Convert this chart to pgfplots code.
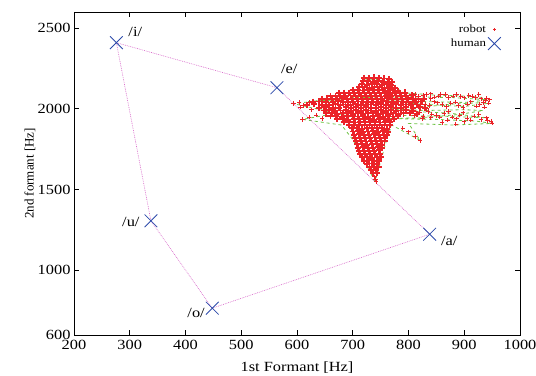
\documentclass[border=0pt]{standalone}
\usepackage{pgfplots}
\pgfplotsset{compat=1.18}
\usepackage{fontspec}
\setmainfont{Liberation Serif}[FakeStretch=1.17]
\newfontfamily\plainserif{Liberation Serif}
\definecolor{robred}{RGB}{235,35,40}
\definecolor{robgreen}{RGB}{110,195,70}
\definecolor{humblue}{RGB}{45,75,170}
\definecolor{polymag}{RGB}{215,100,200}
\pgfplotsset{mylegimg/.style={legend image code/.code={\draw[##1] plot coordinates {(0.5cm,0cm)};}}}
\begin{document}
\begin{tikzpicture}
\begin{axis}[
  scale only axis, width=446pt, height=323pt,
  xmin=200, xmax=1000, ymin=600, ymax=2600,
  xtick={200,300,...,1000}, ytick={600,1000,1500,2000,2500},
  scaled ticks=false,
  /pgf/number format/assume math mode=true,
  /pgf/number format/set thousands separator={},
  tick align=inside, major tick length=5pt,
  axis line style={line width=0.9pt},
  tick style={black, line width=0.8pt},
  ticklabel style={font=\fontsize{14}{16}\selectfont},
  xticklabel style={yshift=-2pt},
  xlabel={1st Formant [Hz]}, ylabel={2nd formant [Hz]},
  xlabel style={font=\fontsize{14}{16}\selectfont, at={(axis description cs:0.5,0)}, anchor=center, yshift=-33pt},
  ylabel style={font=\fontsize{13}{15}\plainserif, at={([xshift=-44pt]axis description cs:0,0.5)}, anchor=center},
  legend style={at={(0.964,0.973)}, anchor=north east, draw=none, fill=none,
     font=\fontsize{11}{13}\selectfont, row sep=1pt},
  legend cell align=right, legend plot pos=right,
]
% green trajectory
\addplot[forget plot, robgreen, dashed, line width=0.8pt] coordinates {
(740,1550)(701,1805)(680,1900)(610,1935)(650,1960)(700,1950)(593,2033)(640,2050)(700,2060)(720,2185)(760,2180)(790,2100)(850,2085)(900,2080)(935,2070)(940,2040)(880,2030)(820,2010)(760,2000)(830,1990)(900,1995)(934,1990)(890,1965)(820,1945)(760,1940)(850,1935)(920,1925)(950,1910)(880,1900)(800,1910)(821,1805)(770,1900)(762,1824)(740,1550)
};
\addplot[forget plot, robgreen, dashed, line width=0.8pt] coordinates {
(620,2045)(700,2070)(800,2075)(880,2070)(946,2056)(900,2040)(830,2045)(760,2050)
(820,2030)(900,2015)(944,2035)
};
\addplot[forget plot, robgreen, dashed, line width=0.8pt] coordinates {
(780,1960)(860,1955)(940,1945)(870,1975)(800,1985)
};
% robot points (dense body)
\addplot[forget plot, only marks, mark=+, mark size=3.1pt, robred, line width=1.9pt] coordinates {
(720,2192)(729,2190)(738,2194)(747,2190)(756,2188)(765,2186)
(719,2170)(728,2172)(737,2168)(746,2171)(755,2168)(763,2165)(771,2168)
(716,2152)(725,2150)(734,2154)(743,2152)(752,2149)(761,2153)(769,2150)
(712,2134)(721,2136)(730,2132)(739,2134)(748,2136)(757,2131)(766,2134)(775,2130)
(700,2116)(709,2118)(718,2114)(727,2116)(736,2118)(745,2115)(754,2117)(763,2113)(772,2116)(781,2112)
(676,2098)(685,2100)(694,2096)(703,2098)(712,2100)(721,2097)(730,2099)(739,2096)(748,2100)(757,2098)(766,2095)(775,2099)(784,2097)(793,2101)
(660,2080)(669,2082)(678,2078)(687,2080)(696,2083)(705,2079)(714,2081)(723,2078)(732,2082)(741,2080)(750,2077)(759,2081)(768,2079)(777,2083)(786,2078)(795,2080)(806,2084)
(645,2062)(654,2064)(663,2060)(672,2062)(681,2065)(690,2061)(699,2063)(708,2060)(717,2064)(726,2062)(735,2059)(744,2063)(753,2061)(762,2065)(771,2060)(780,2062)(789,2064)(798,2060)(808,2063)(818,2060)(828,2064)
(628,2044)(640,2046)(652,2042)(664,2044)(673,2047)(682,2043)(691,2045)(700,2042)(709,2046)(718,2044)(727,2041)(736,2045)(745,2043)(754,2047)(763,2042)(772,2044)(781,2046)(790,2042)(800,2045)(812,2043)(824,2046)
(618,2026)(630,2028)(645,2024)(657,2026)(669,2029)(678,2025)(687,2027)(696,2024)(705,2028)(714,2026)(723,2023)(732,2027)(741,2025)(750,2029)(759,2024)(768,2026)(777,2028)(786,2024)(795,2027)(805,2025)(816,2027)
(640,2008)(652,2010)(664,2006)(676,2008)(688,2011)(697,2007)(706,2009)(715,2006)(724,2010)(733,2008)(742,2005)(751,2009)(760,2007)(769,2011)(778,2006)(787,2008)(796,2010)(808,2006)(820,2009)(830,2005)
(648,1990)(658,1992)(668,1988)(678,1990)(688,1993)(697,1989)(706,1991)(715,1988)(724,1992)(733,1990)(742,1987)(751,1991)(760,1989)(769,1993)(778,1988)(787,1990)(796,1992)(808,1989)
(652,1972)(662,1974)(672,1970)(682,1972)(692,1975)(701,1971)(710,1973)(719,1970)(728,1974)(737,1972)(746,1969)(755,1973)(764,1971)(773,1975)(782,1970)(791,1972)(802,1974)(815,1970)
(660,1954)(670,1956)(680,1952)(690,1954)(700,1957)(709,1953)(718,1955)(727,1952)(736,1956)(745,1954)(754,1951)(763,1955)(772,1953)(781,1957)
(672,1936)(682,1938)(692,1934)(702,1936)(711,1939)(720,1935)(729,1937)(738,1934)(747,1938)(756,1936)(765,1933)(774,1937)
(684,1918)(694,1920)(704,1916)(713,1918)(722,1921)(731,1917)(740,1919)(749,1916)(758,1920)(767,1918)
(694,1900)(703,1902)(712,1898)(721,1900)(730,1903)(739,1899)(748,1901)(757,1898)(766,1902)
(698,1880)(707,1882)(716,1878)(725,1880)(734,1883)(743,1879)(752,1881)(761,1878)
(700,1860)(709,1862)(718,1858)(727,1860)(736,1863)(745,1859)(754,1861)(763,1858)
(702,1840)(711,1842)(720,1838)(729,1840)(738,1843)(747,1839)(756,1841)(762,1838)
(704,1820)(713,1822)(722,1818)(731,1820)(740,1823)(749,1819)(758,1821)
(706,1800)(715,1802)(724,1798)(733,1800)(742,1803)(751,1799)(757,1801)
(708,1780)(717,1782)(726,1778)(735,1780)(744,1783)(753,1779)
(709,1760)(718,1762)(727,1758)(736,1760)(745,1763)(752,1759)
(711,1740)(720,1742)(729,1738)(738,1740)(747,1743)
(713,1720)(722,1722)(731,1718)(740,1720)(749,1723)
(716,1700)(725,1702)(734,1698)(743,1700)(750,1703)
(720,1680)(729,1682)(738,1678)(747,1680)
(726,1660)(735,1662)(744,1658)
(730,1640)(738,1642)(746,1638)
(733,1620)(741,1622)
(736,1600)(744,1602)
};
% robot points (sparse arms)
\addplot[only marks, mark=+, mark size=2.2pt, robred, line width=0.9pt,
  mylegimg, legend image post style={mark size=1.6pt}] coordinates {
(739,1580)(741,1562)(742,1548)
(594,2034)(604,2040)(612,2022)(606,2012)(622,2040)(610,1934)(622,1948)(634,1962)(645,1940)(626,1995)
(812,2090)(826,2082)(840,2094)(854,2078)(866,2088)(880,2080)(894,2076)(908,2084)(920,2070)(930,2062)(938,2050)
(815,2040)(830,2030)(846,2044)(860,2026)(876,2036)(890,2022)(906,2030)(922,2018)(934,2040)(936,2010)
(806,1990)(820,1975)(835,1985)(850,1960)(864,1972)(878,1950)(892,1962)(905,1940)(918,1955)(930,1935)(942,1928)(950,1912)(900,1920)(870,1930)(840,1945)
(790,1880)(800,1858)(812,1830)(821,1805)
(812,2060)(824,2050)(818,2010)(832,2000)(826,1955)(840,2064)
(800,2070)(808,2082)(818,2076)(832,2088)(846,2072)(858,2092)(872,2070)(886,2090)(900,2068)(914,2078)(926,2088)(940,2066)(946,2056)
(805,2035)(822,2045)(838,2020)(852,2038)(868,2015)(884,2042)(898,2008)(912,2044)(928,2026)(944,2035)
(810,1960)(825,1940)(842,1968)(856,1948)(872,1985)(886,1938)(898,1975)(912,1930)(926,1965)(940,1945)(948,1925)(885,1905)(860,1915)
};
\addlegendentry{robot}
% human vowel polygon
\addplot[forget plot, polymag, line width=0.6pt, dash pattern=on 0.8pt off 1pt] coordinates {
(276,2410)(564,2131)(838,1224)(448,766)(338,1307)(276,2410)
};
\addplot[only marks, mark=x, mark size=9pt, humblue, line width=0.8pt, mylegimg] coordinates {
(276,2410)(564,2131)(838,1224)(448,766)(338,1307)
};
\addlegendentry{human}
\node[font=\fontsize{14}{16}\selectfont] at (axis cs:310,2475) {/i/};
\node[font=\fontsize{14}{16}\selectfont] at (axis cs:586,2248) {/e/};
\node[font=\fontsize{14}{16}\selectfont] at (axis cs:873,1184) {/a/};
\node[font=\fontsize{14}{16}\selectfont] at (axis cs:419,735) {/o/};
\node[font=\fontsize{14}{16}\selectfont] at (axis cs:302,1300) {/u/};
\end{axis}
\pgfresetboundingbox
\path[use as bounding box] ([shift={(-74pt,-41pt)}]current axis.south west) rectangle ([shift={(16pt,12pt)}]current axis.north east);
\end{tikzpicture}
\end{document}
